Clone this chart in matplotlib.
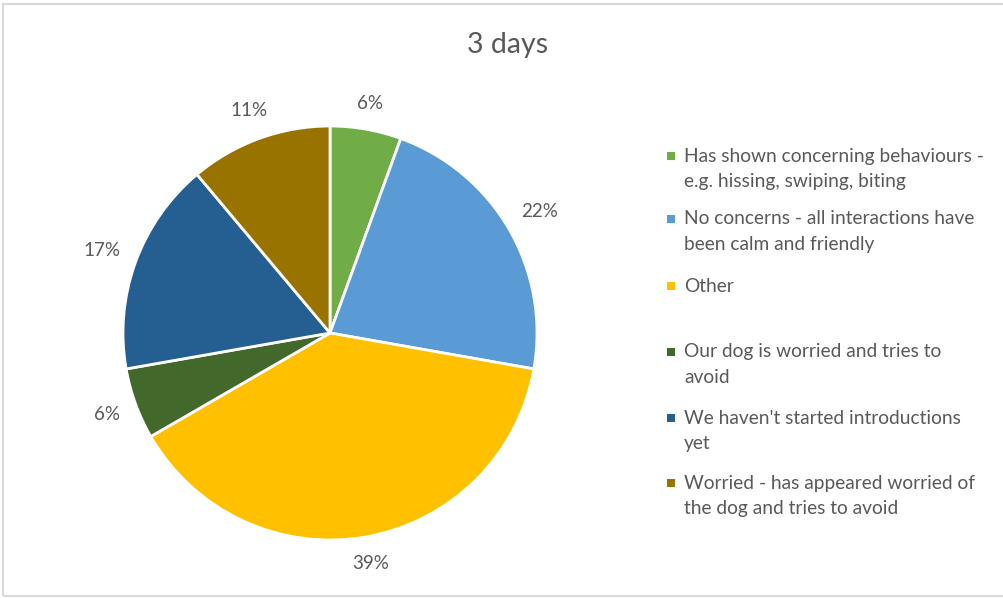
import numpy as np
import matplotlib
matplotlib.use("Agg")
import matplotlib.pyplot as plt
from matplotlib.patches import Rectangle

title = "3 days"
categories = [
    "Has shown concerning behaviours -\ne.g. hissing, swiping, biting",
    "No concerns - all interactions have\nbeen calm and friendly",
    "Other",
    "Our dog is worried and tries to\navoid",
    "We haven't started introductions\nyet",
    "Worried - has appeared worried of\nthe dog and tries to avoid",
]
values = [1, 4, 7, 1, 3, 2]
colors = ["#70AD47", "#5B9BD5", "#FFC000", "#43682B", "#255E91", "#997300"]

W, H = 1004, 598
fig = plt.figure(figsize=(W / 100, H / 100), dpi=100)
fig.patch.set_facecolor("white")
plt.rcParams['font.family'] = ['Lato', 'DejaVu Sans']
txt_color = "#595959"

# border
fig.add_artist(Rectangle((3 / W, 2 / H), (W + 5) / W, (H - 6) / H,
                         transform=fig.transFigure, fill=False,
                         edgecolor="#D9D9D9", linewidth=1.5))

cx, cy, R = 330, 333, 207
ax = fig.add_axes([(cx - R) / W, (H - cy - R) / H, 2 * R / W, 2 * R / H])
wedges, _ = ax.pie(values, colors=colors, startangle=90, counterclock=False,
                   radius=1, wedgeprops=dict(edgecolor="white", linewidth=2))
ax.set_xlim(-1, 1)
ax.set_ylim(-1, 1)
ax.set_aspect("equal")
ax.axis("off")

fig.text(508 / W, 1 - 45 / H, title, ha="center", va="center",
         fontsize=20.5, color=txt_color)

fig.canvas.draw()
renderer = fig.canvas.get_renderer()
total = sum(values)
gap = 15
for w, v in zip(wedges, values):
    mid = np.deg2rad((w.theta1 + w.theta2) / 2)
    t = ax.text(0, 0, f"{v / total * 100:.0f}%", ha="center", va="center",
                fontsize=13.5, color=txt_color)
    bb = t.get_window_extent(renderer)
    hw, hh = bb.width / 2, bb.height / 2
    proj = hw * abs(np.cos(mid)) + hh * abs(np.sin(mid))
    r = (R + gap + proj) / R
    t.set_position((r * np.cos(mid), r * np.sin(mid)))

# legend
row_y = [156, 219, 286, 352, 418, 483]
line_h = 25.5
for y, lab, c in zip(row_y, categories, colors):
    fig.add_artist(Rectangle((667 / W, 1 - (y + 4) / H), 8 / W, 8 / H,
                             transform=fig.transFigure, facecolor=c,
                             edgecolor="none"))
    for k, line in enumerate(lab.split("\n")):
        fig.text(684 / W, 1 - (y + k * line_h) / H, line, ha="left",
                 va="center", fontsize=13.8, color=txt_color)

fig.savefig("out.png", dpi=100, facecolor="white")
